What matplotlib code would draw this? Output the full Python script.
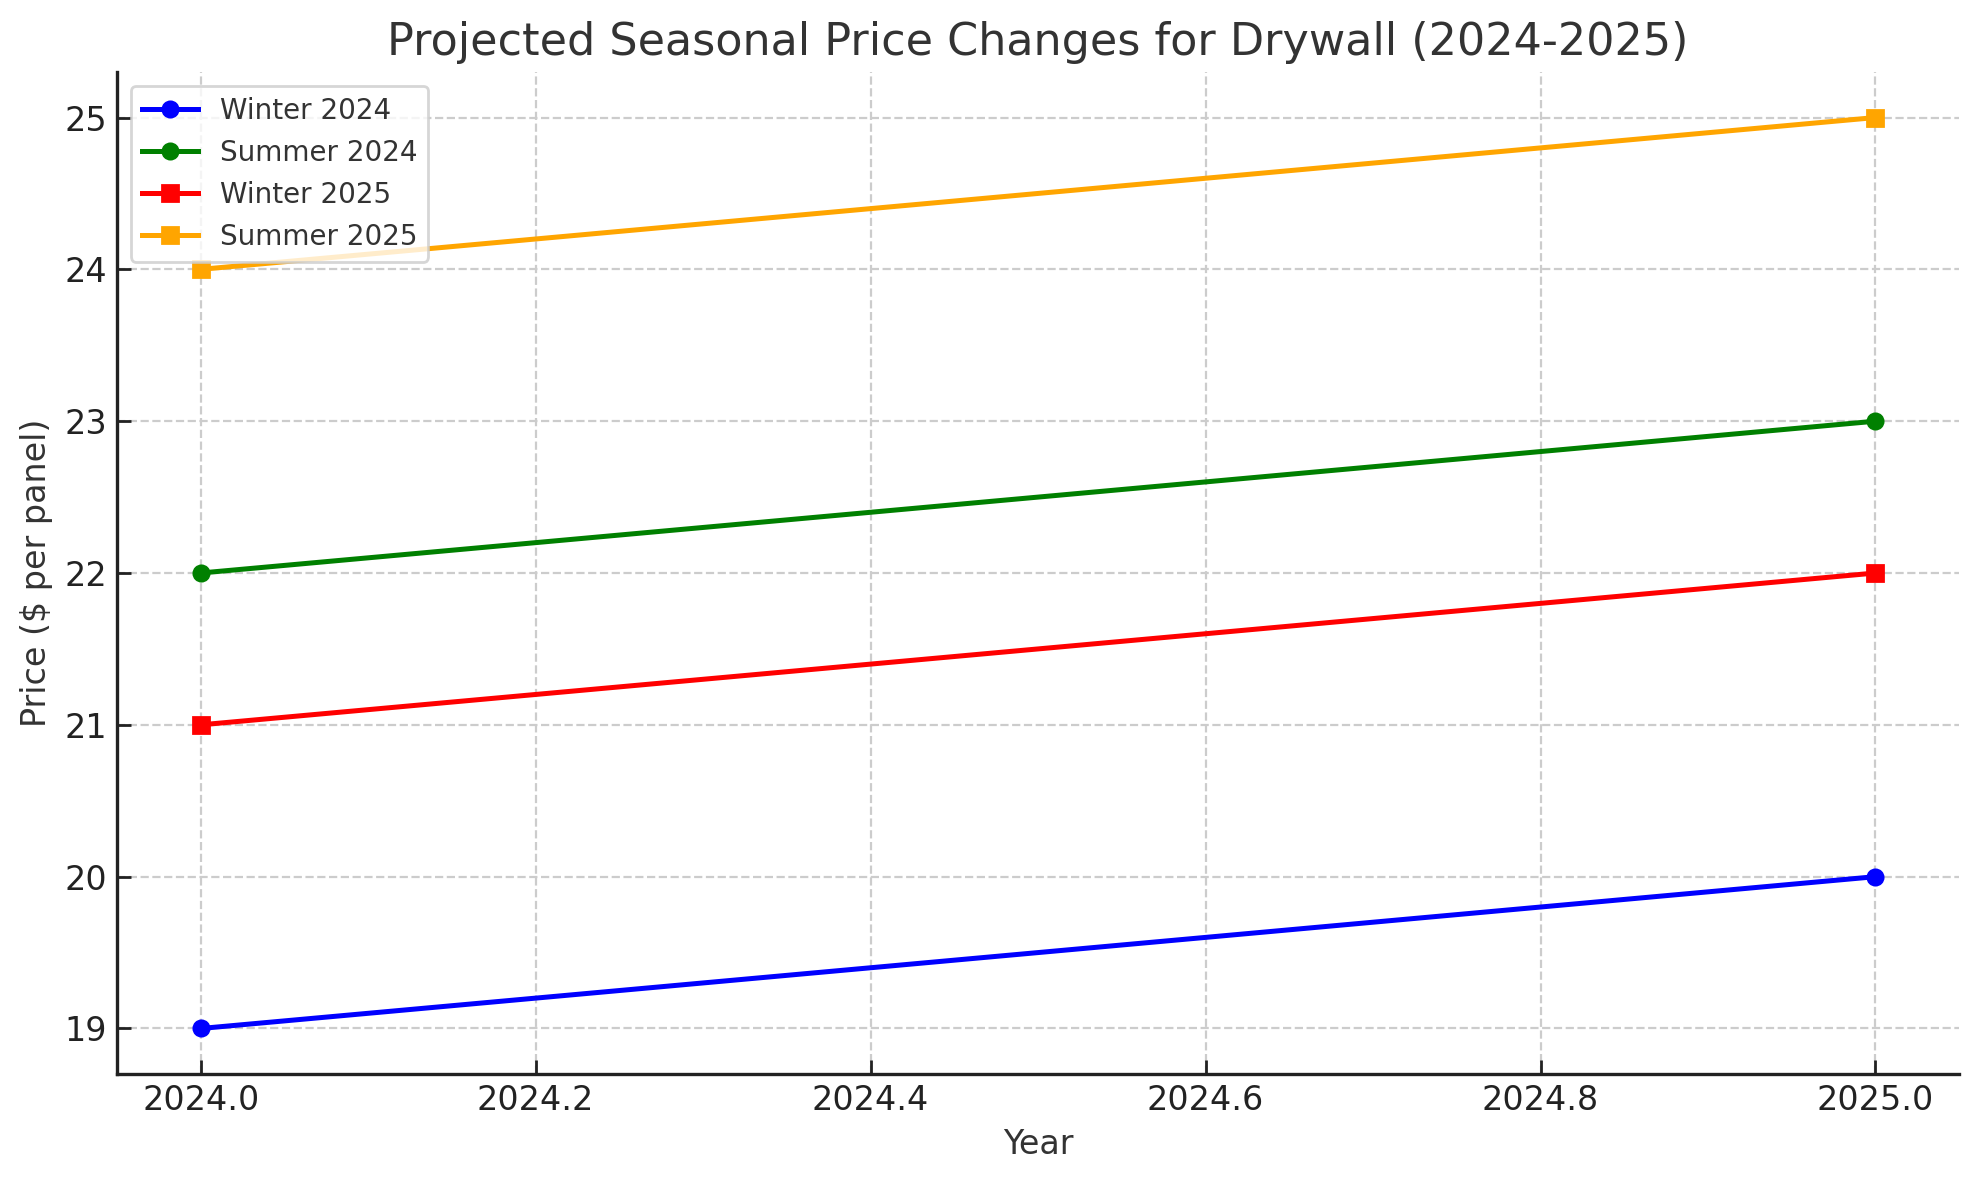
import matplotlib
matplotlib.use("Agg")
from matplotlib import pyplot as plt

years = [2024, 2025]
winter_2024 = [19, 20]
summer_2024 = [22, 23]
winter_2025 = [21, 22]
summer_2025 = [24, 25]

plt.rcParams['text.color'] = '#333333'
plt.rcParams['axes.labelcolor'] = '#333333'

fig = plt.figure(figsize=(1979 / 200, 1180 / 200), dpi=200)
ax = fig.add_axes([0.0591, 0.0898, 0.9309, 0.8492])

ax.plot(years, winter_2024, marker='o', color='blue', linewidth=1.8, markersize=5.5, label='Winter 2024')
ax.plot(years, summer_2024, marker='o', color='green', linewidth=1.8, markersize=5.5, label='Summer 2024')
ax.plot(years, winter_2025, marker='s', color='red', linewidth=1.8, markersize=5.5, label='Winter 2025')
ax.plot(years, summer_2025, marker='s', color='orange', linewidth=1.8, markersize=5.5, label='Summer 2025')

ax.set_title('Projected Seasonal Price Changes for Drywall (2024-2025)', fontsize=16, color='#333333')
ax.set_xlabel('Year', fontsize=12)
ax.set_ylabel('Price ($ per panel)', fontsize=12)
ax.tick_params(direction='in', labelsize=12, colors='#222222', length=5, width=1)
ax.grid(True, linestyle='--', color='#cccccc', linewidth=0.8)
ax.spines['top'].set_visible(False)
ax.spines['right'].set_visible(False)
for s in ['left', 'bottom']:
    ax.spines[s].set_linewidth(1.2)
    ax.spines[s].set_color('#222222')
ax.legend(loc='upper left', fontsize=10)

fig.savefig('out.png', dpi=200)
